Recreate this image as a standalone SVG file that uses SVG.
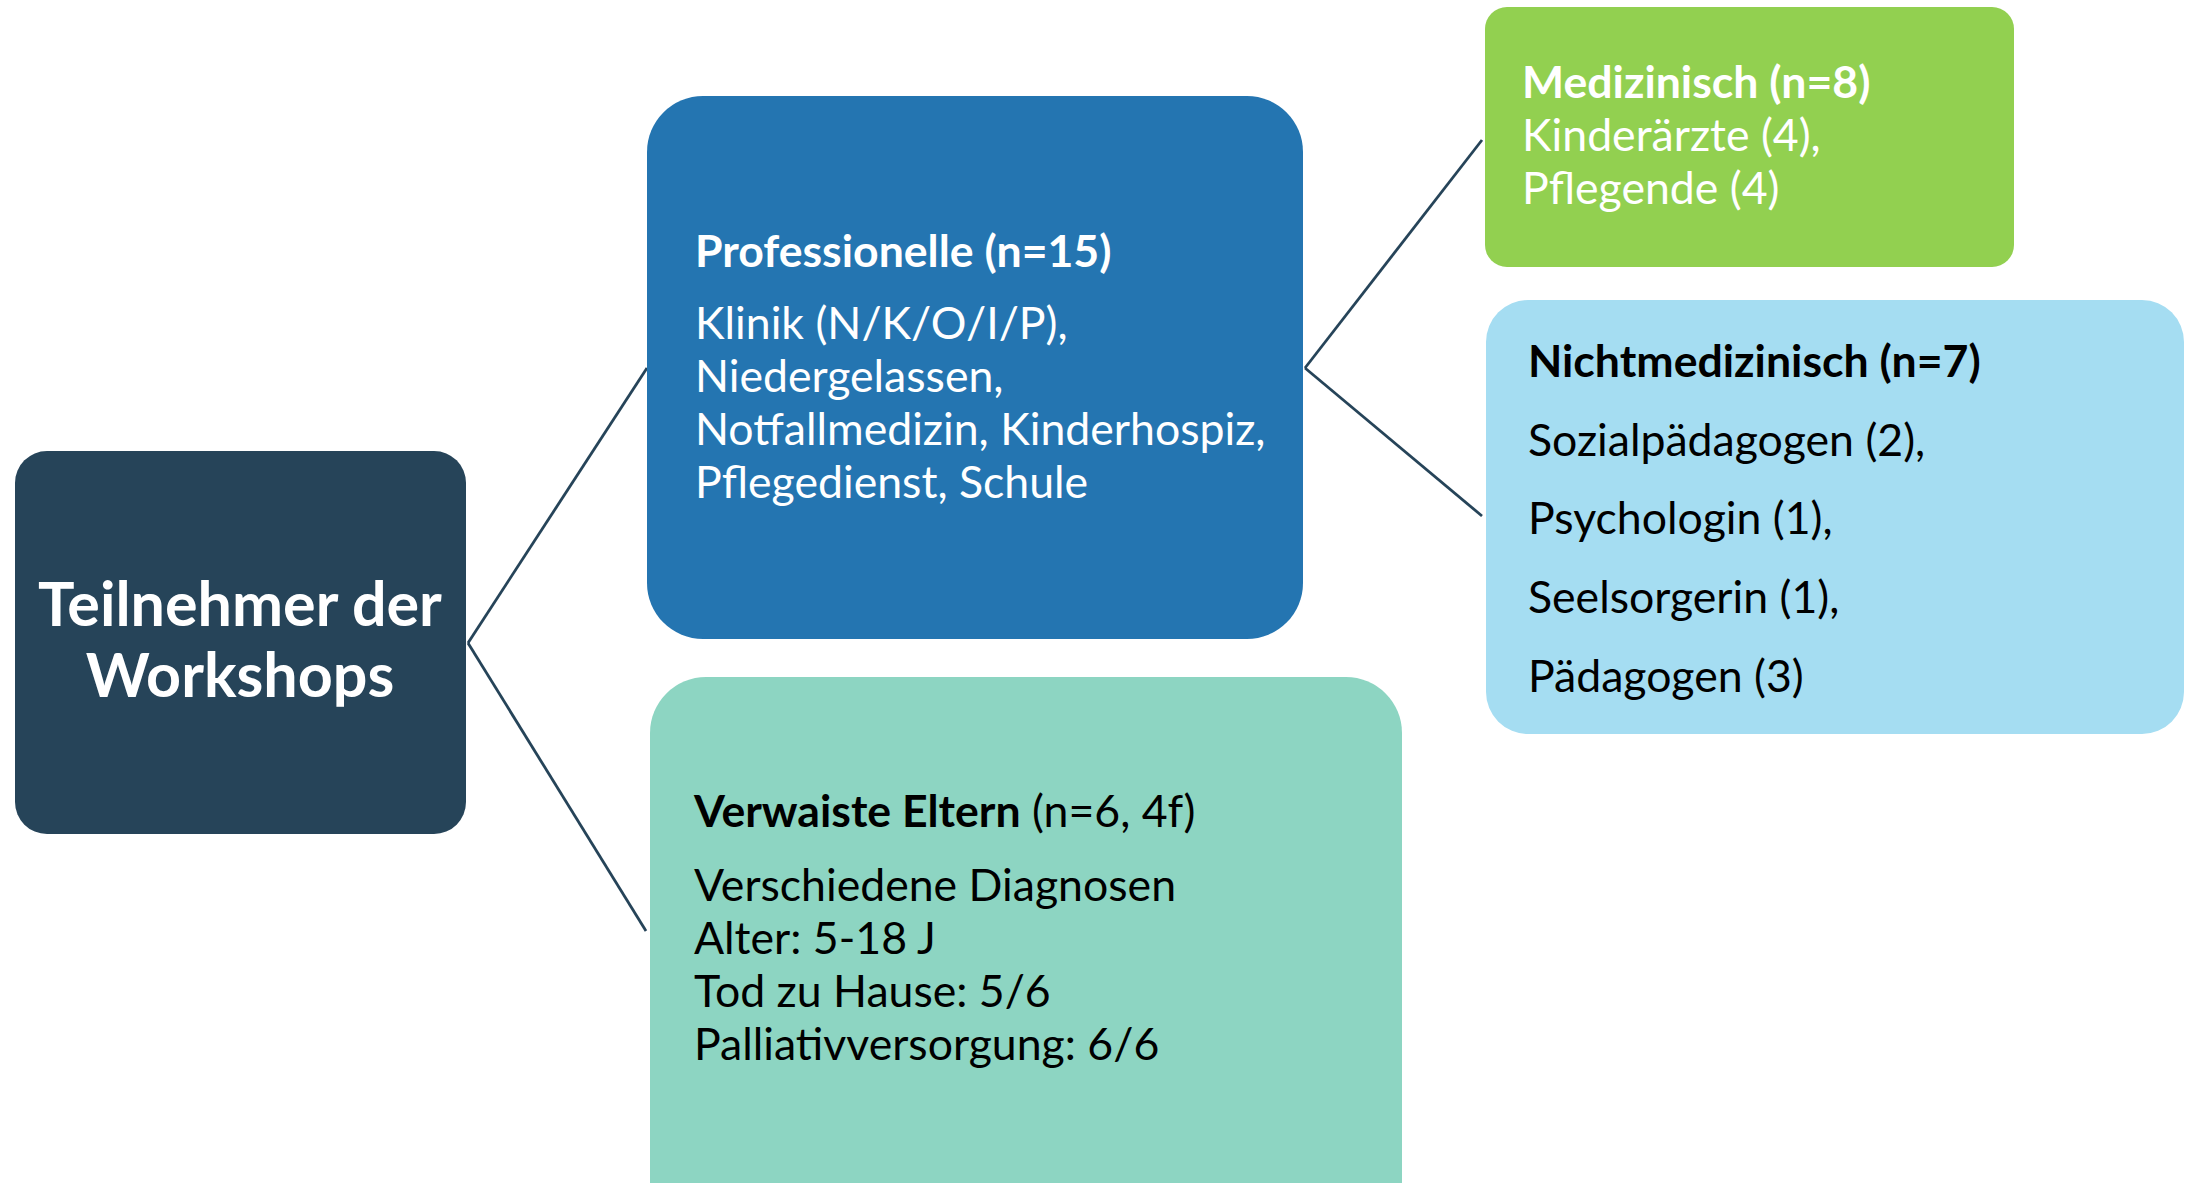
<svg xmlns="http://www.w3.org/2000/svg" width="2188" height="1183" viewBox="0 0 2188 1183">
<style>
text{font-family:Lato,"Open Sans","Liberation Sans",sans-serif;font-size:44.6px}
.b{font-weight:bold}
.w{fill:#ffffff}
.k{fill:#000000}
.conn line{stroke:#264459;stroke-width:2.8;fill:none}
</style>
<rect width="2188" height="1183" fill="#ffffff"/>
<g id="connectors" class="conn">
<line x1="468" y1="643" x2="647" y2="368"/>
<line x1="468" y1="643" x2="646" y2="931"/>
<line x1="1305" y1="368" x2="1482" y2="140"/>
<line x1="1305" y1="368" x2="1482" y2="516"/>
</g>
<g id="root">
<rect x="15" y="451" width="451" height="383" rx="32" fill="#264459"/>
<text class="b w" x="240" y="626" text-anchor="middle" style="font-size:61px">Teilnehmer der</text>
<text class="b w" x="240" y="697" text-anchor="middle" style="font-size:61px">Workshops</text>
</g>
<g id="professionelle">
<rect x="647" y="96" width="656" height="543" rx="56" fill="#2475b1"/>
<text class="b w" x="695" y="267">Professionelle (n=15)</text>
<text class="w" x="695" y="339">Klinik (N/K/O/I/P),</text>
<text class="w" x="695" y="392">Niedergelassen,</text>
<text class="w" x="695" y="445">Notfallmedizin, Kinderhospiz,</text>
<text class="w" x="695" y="498">Pflegedienst, Schule</text>
</g>
<g id="medizinisch">
<rect x="1485" y="7" width="529" height="260" rx="22" fill="#92d050"/>
<text class="b w" x="1522" y="98">Medizinisch (n=8)</text>
<text class="w" x="1522" y="151">Kinderärzte (4),</text>
<text class="w" x="1522" y="204">Pflegende (4)</text>
</g>
<g id="nichtmedizinisch">
<rect x="1486" y="300" width="698" height="434" rx="42" fill="#a5ddf2"/>
<text class="b k" x="1528" y="377">Nichtmedizinisch (n=7)</text>
<text class="k" x="1528" y="456">Sozialpädagogen (2),</text>
<text class="k" x="1528" y="534">Psychologin (1),</text>
<text class="k" x="1528" y="613">Seelsorgerin (1),</text>
<text class="k" x="1528" y="692">Pädagogen (3)</text>
</g>
<g id="verwaiste">
<rect x="650" y="677" width="752" height="560" rx="56" fill="#8dd5c2"/>
<text class="k" x="694" y="827"><tspan class="b">Verwaiste Eltern</tspan> (n=6, 4f)</text>
<text class="k" x="694" y="901">Verschiedene Diagnosen</text>
<text class="k" x="694" y="954">Alter: 5-18 J</text>
<text class="k" x="694" y="1007">Tod zu Hause: 5/6</text>
<text class="k" x="694" y="1060">Palliativversorgung: 6/6</text>
</g>
</svg>
